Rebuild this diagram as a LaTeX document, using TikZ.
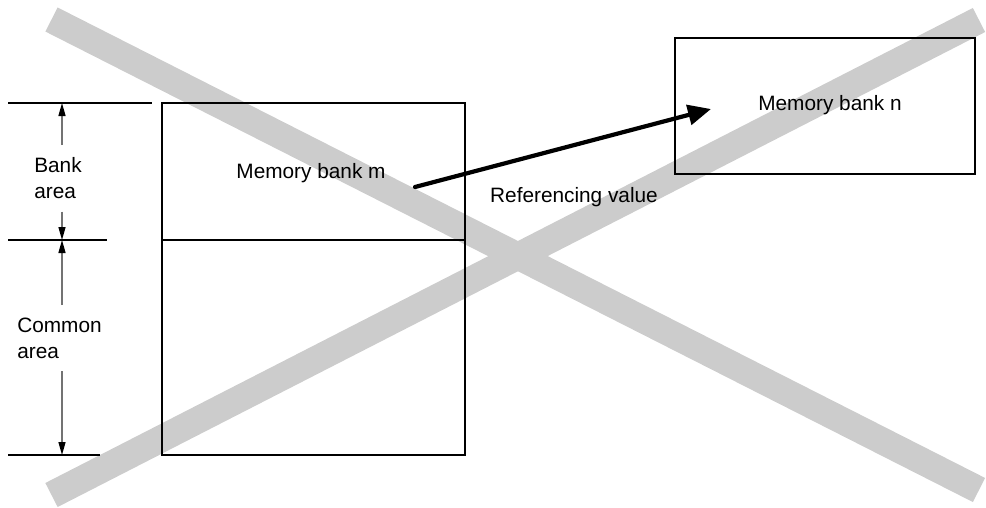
\documentclass[tikz,border=0pt]{standalone}
\usepackage{fontspec}
\setmainfont{Liberation Sans}
\usetikzlibrary{arrows.meta}

\begin{document}
\begin{tikzpicture}[x=1pt, y=-1pt, every node/.style={font=\fontsize{20.8}{26}\selectfont},
  band/.style={line width=27pt, draw=black!20},
  bankbox/.style={line width=2.4pt},
  thinline/.style={line width=1.1pt},
  dimarrow/.style={line width=1.4pt, draw=black!55, -{Triangle[black, length=13pt, width=7pt]}},
  dimlabel/.style={align=left, inner xsep=0pt, inner ysep=12.5pt, anchor=north}]
\useasboundingbox (0,0) rectangle (986,507);

% crossing bands
\draw[band] (51.5,19.5) -- (979,490);
\draw[band] (51.5,495) -- (979,20);

% memory banks
\draw[bankbox] (162,103) rectangle (465,455);
\draw[thinline] (162,240) -- (465,240);
\draw[bankbox] (675,38) rectangle (975,174);
\node[anchor=base] (bankm) at (311,178) {Memory bank m};
\node[anchor=base] (bankn) at (830,110) {Memory bank n};

% referencing value
\coordinate (refs) at (415,187);
\coordinate (refe) at (711,109);
\draw[line width=4.2pt, line cap=round, -{Triangle[length=23pt, width=20pt]}] (refs) -- (refe);
\node[anchor=base] (refval) at (574,202) {Referencing value};

% dimensions
\draw[thinline] (8,103) -- (152,103);
\draw[thinline] (8,240) -- (107,240);
\draw[thinline] (8,455) -- (100,455);
\coordinate (t0) at (62,103);
\coordinate (t1) at (62,240);
\coordinate (t2) at (62,455);
\node[dimlabel] (bankarea) at (58,145) {Bank\\area};
\node[dimlabel] (commonarea) at (59.5,305) {Common\\area};
\draw[dimarrow] (bankarea.north -| t0) -- (t0);
\draw[dimarrow] (bankarea.south -| t1) -- (t1);
\draw[dimarrow] (commonarea.north -| t1) -- (t1);
\draw[dimarrow] (commonarea.south -| t2) -- (t2);
\end{tikzpicture}
\end{document}
